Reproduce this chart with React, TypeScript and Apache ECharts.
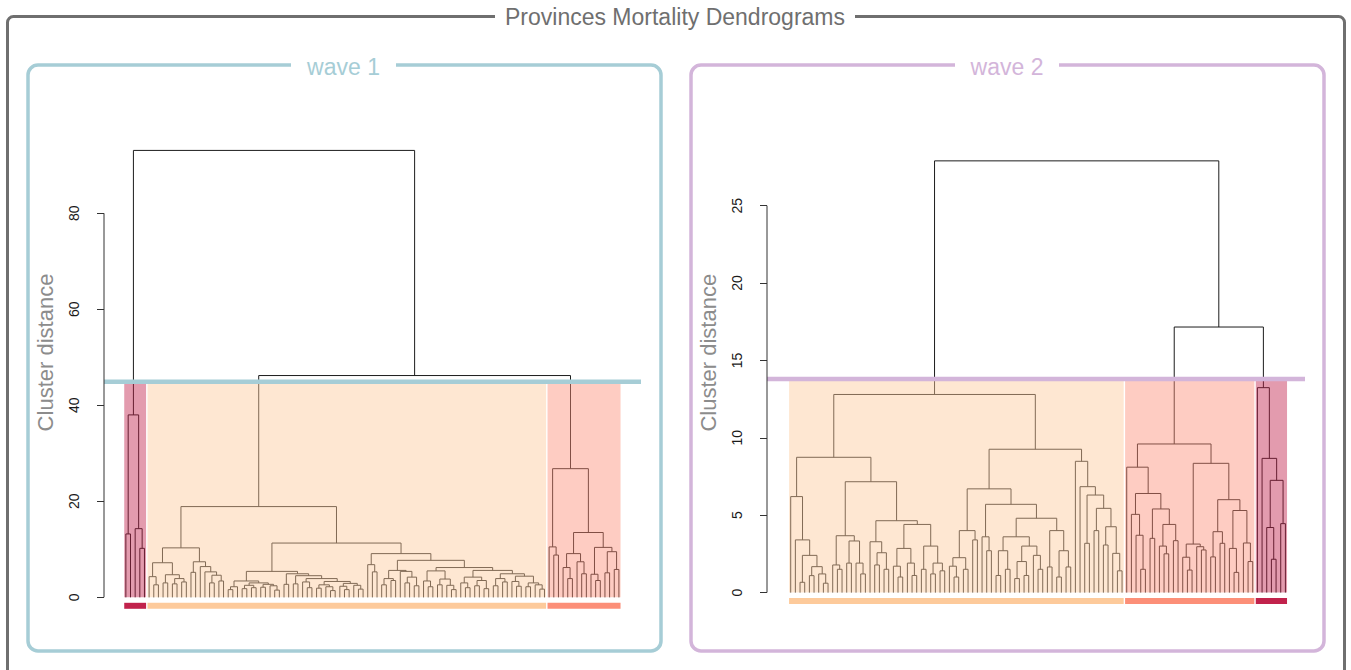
import React, { useEffect, useRef } from "react";
import * as echarts from "echarts";

// A dendrogram node: 0 is a leaf, otherwise [merge height, left, right].
type Tree = 0 | [number, Tree, Tree];

// ---- wave 1 ----
const wave1ClusterA: Tree = [38, [13.2, 0, 0], [14.3, 0, [10.2, 0, 0]]];

const wave1ClusterB: Tree = [18.9,
  [10.3,
    [7.2, [4.3, 0, [2.6, 0, 0]], [4.7, [3.0, 0, 0], [3.9, [2.8, 0, 0], [3.2, 0, 0]]]],
    [7.4, [5.2, 0, 0], [6.4, 0, [5.3, 0, [4.6, [3.0, 0, 0], [3.4, 0, 0]]]]]],
  [11.3,
    [5.4,
      [3.4, [2.2, [1.6, 0, 0], 0],
        [3.0, [2.5, [1.8, 0, 0], [2.0, 0, 0]], [2.7, [2.1, 0, 0], [2.4, 0, [1.5, 0, 0]]]]],
      [4.9, [2.7, 0, 0],
        [4.5, [2.8, 0, 0],
          [3.9, [3.2, 0, [2.0, 0, 0]],
            [3.3, [2.6, [1.9, 0, 0], [2.2, 0, [1.4, 0, 0]]],
              [2.9, [2.3, 0, [1.6, 0, 0]], [2.5, 0, [1.7, 0, 0]]]]]]]],
    [9.1,
      [6.8, 0, [5.3, 0, 0]],
      [7.7,
        [5.6, [3.9, [2.6, 0, 0], [3.5, 0, 0]], [5.4, 0, [4.2, [3.0, 0, 0], [2.4, 0, 0]]]],
        [6.2,
          [5.5, [3.4, 0, [2.2, 0, 0]], [3.8, [2.6, 0, 0], [2.5, 0, [1.6, 0, 0]]]],
          [5.6,
            [4.2, [3.0, 0, [2.0, 0, 0]], [3.5, [2.4, 0, 0], [1.8, 0, 0]]],
            [4.9, [3.9, [2.4, 0, 0], [3.2, 0, 0]],
              [4.4, [3.3, 0, [2.3, 0, 0]], [3.0, [2.2, 0, 0], [2.6, 0, [1.7, 0, 0]]]]]]]]]]];

const wave1ClusterC: Tree = [26.8,
  [10.5, 0, [8.8, 0, 0]],
  [13.5,
    [9.1, [6.2, 0, [3.9, 0, 0]], [7.4, 0, [4.9, 0, 0]]],
    [10.4, [4.8, 0, [3.5, 0, 0]], [9.5, [5.1, 0, 0], [5.8, 0, 0]]]]];

const wave1JoinBC = 46.2;
const wave1JoinAll = 93.1;
const wave1Cut = 44.9;
const wave1Ticks = [0, 20, 40, 60, 80];

// ---- wave 2 ----
const wave2ClusterL: Tree = [12.8,
  [8.74,
    [6.2, 0, [3.4, 0, [2.4, [0.66, 0, 0], [1.67, [1.09, 0, 0], [1.2, 0, [0.6, 0, 0]]]]]],
    [7.16,
      [3.67, [1.78, 0, [1.5, 0, 0]], [3.33, [1.9, 0, 0], [1.9, 0, [1.2, 0, 0]]]],
      [4.64,
        [3.28, 0, [2.57, [1.78, 0, 0], [1.5, 0, 0]]],
        [4.4,
          [2.85, [1.7, 0, [1.0, 0, 0]], [1.9, 0, [1.1, 0, 0]]],
          [3.0, [1.5, 0, 0], [1.9, [1.2, 0, 0], [1.4, 0, 0]]]]]]],
  [9.26,
    [6.7,
      [4.0, [2.25, [1.7, 0, [1.0, 0, 0]], [1.5, 0, 0]], [3.4, 0, 0]],
      [5.7,
        [3.6, 0, [2.7, 0, 0]],
        [4.8,
          [3.6, [2.7, [1.1, 0, 0], [1.5, 0, 0]],
            [3.0, [2.0, [0.9, 0, 0], [1.1, 0, 0]], [2.4, 0, [1.5, 0, 0]]]],
          [4.0, [1.65, 0, 0], [2.7, [1.0, 0, 0], [1.65, 0, 0]]]]]],
    [8.48, 0,
      [6.84, 0,
        [6.3, [3.18, 0, 0],
          [5.44, [4.0, 0, 0], [4.25, [3.07, 0, 0], [2.53, 0, [1.4, 0, 0]]]]]]]]];

const wave2ClusterM: Tree = [9.6,
  [8.1, 0,
    [6.4,
      [5.05, 0, [3.7, 0, [1.5, 0, 0]]],
      [5.4, [3.5, 0, 0], [4.4, [3.0, 0, [2.5, 0, 0]], [3.35, 0, 0]]]]],
  [8.35,
    [3.13, [2.28, 0, [1.45, 0, 0]], [2.96, 0, [2.75, 0, 0]]],
    [6.0,
      [3.93, [2.3, 0, 0], [3.18, 0, 0]],
      [5.3, [2.85, 0, [1.3, 0, 0]], [3.2, 0, [2.0, 0, 0]]]]]];

const wave2ClusterD: Tree = [13.24, 0, [8.67, 0, [7.25, [4.2, 0, [2.15, 0, 0]], [4.45, 0, 0]]]];

const wave2JoinMD = 17.16;
const wave2JoinAll = 27.9;
const wave2Cut = 13.8;
const wave2Ticks = [0, 5, 10, 15, 20, 25];

// cluster palette
const crimson = "#c1224c";
const peach = "#fdca9b";
const salmon = "#fc8f78";

const wave1Clusters: Tree[] = [wave1ClusterA, wave1ClusterB, wave1ClusterC];
const wave1Colors = [crimson, peach, salmon];
const wave2Clusters: Tree[] = [wave2ClusterL, wave2ClusterM, wave2ClusterD];
const wave2Colors = [peach, salmon, crimson];

const FONT = "Liberation Sans, Arial, sans-serif";

function countLeaves(n: Tree): number {
  return n === 0 ? 1 : countLeaves(n[1]) + countLeaves(n[2]);
}

// Walks the tree in leaf order and returns the elbow segments [x1, y1, x2, y2].
function elbowSegments(root: Tree): number[][] {
  const segs: number[][] = [];
  let next = 1;
  const walk = (n: Tree): [number, number] => {
    if (n === 0) return [next++, 0];
    const [h, a, b] = n;
    const [xa, ha] = walk(a);
    const [xb, hb] = walk(b);
    segs.push([xa, ha, xa, h], [xb, hb, xb, h], [xa, h, xb, h]);
    return [(xa + xb) / 2, h];
  };
  walk(root);
  return segs;
}

// Leaf ranges of the clusters, in leaf order, for the shaded boxes.
function clusterBoxes(clusters: Tree[], top: number): number[][] {
  let start = 1;
  return clusters.map((c) => {
    const n = countLeaves(c);
    const box = [start - 0.35, start + n - 1 + 0.35, top];
    start += n;
    return box;
  });
}

function panelSeries(
  idx: number,
  root: Tree,
  clusters: Tree[],
  colors: string[],
  cut: number,
  ticks: number[],
  xMin: number,
  xMax: number,
  cutColor: string
): any[] {
  const segs = elbowSegments(root);
  const boxes = clusterBoxes(clusters, cut);
  return [
    {
      type: "custom",
      xAxisIndex: idx,
      yAxisIndex: idx,
      z: 2,
      silent: true,
      data: segs,
      renderItem: (_p: any, api: any) => {
        const a = api.coord([api.value(0), api.value(1)]);
        const b = api.coord([api.value(2), api.value(3)]);
        return {
          type: "line",
          shape: { x1: a[0], y1: a[1], x2: b[0], y2: b[1] },
          style: { stroke: "#1c1c1c", lineWidth: 1 },
        };
      },
    },
    {
      type: "custom",
      xAxisIndex: idx,
      yAxisIndex: idx,
      z: 3,
      silent: true,
      data: boxes,
      renderItem: (p: any, api: any) => {
        const tl = api.coord([api.value(0), api.value(2)]);
        const br = api.coord([api.value(1), 0]);
        const color = colors[p.dataIndex];
        const w = br[0] - tl[0];
        return {
          type: "group",
          children: [
            {
              type: "rect",
              shape: { x: tl[0], y: tl[1], width: w, height: br[1] - tl[1] },
              style: { fill: color, opacity: 0.45 },
            },
            {
              type: "rect",
              shape: { x: tl[0], y: br[1] + 5.5, width: w, height: 6 },
              style: { fill: color },
            },
          ],
        };
      },
    },
    {
      type: "line",
      xAxisIndex: idx,
      yAxisIndex: idx,
      z: 4,
      silent: true,
      symbol: "none",
      data: [
        [xMin, cut],
        [xMax, cut],
      ],
      lineStyle: { color: cutColor, width: 4.5 },
    },
    {
      type: "line",
      xAxisIndex: idx,
      yAxisIndex: idx,
      z: 4,
      silent: true,
      symbol: "none",
      data: [
        [xMin, ticks[0]],
        [xMin, ticks[ticks.length - 1]],
      ],
      lineStyle: { color: "#333", width: 1 },
    },
  ];
}

function yAxisFor(idx: number, max: number, ticks: number[]) {
  return {
    gridIndex: idx,
    type: "value",
    min: 0,
    max,
    axisLine: { show: false, onZero: false },
    splitLine: { show: false },
    axisTick: {
      show: true,
      length: 7,
      customValues: ticks,
      lineStyle: { color: "#333", width: 1 },
    },
    axisLabel: {
      customValues: ticks,
      rotate: 90,
      margin: 23,
      fontSize: 14,
      color: "#1a1a1a",
      fontFamily: FONT,
    },
    name: "Cluster distance",
    nameLocation: "middle",
    nameGap: 48,
    nameRotate: 90,
    nameTextStyle: { fontSize: 22, color: "#8c8c8c", fontFamily: FONT },
  };
}

export default function App() {
  const ref = useRef<HTMLDivElement>(null);

  useEffect(() => {
    document.body.style.margin = "0";
    if (!ref.current) return;
    const chart = echarts.init(ref.current, undefined, { renderer: "svg" });

    const wave1Root: Tree = [wave1JoinAll, wave1ClusterA, [wave1JoinBC, wave1ClusterB, wave1ClusterC]];
    const wave2Root: Tree = [wave2JoinAll, wave2ClusterL, [wave2JoinMD, wave2ClusterM, wave2ClusterD]];

    const x1Min = -3.7, x1Max = 111.75;
    const x2Min = -4.08, x2Max = 111.2;
    const blue = "#a6cdd6";
    const purple = "#d3b5da";
    const grey = "#6f6f6f";

    chart.setOption({
      animation: false,
      grid: [
        { left: 104, right: 710, top: 107.7, bottom: 72.7 },
        { left: 767, right: 46, top: 112.9, bottom: 77.5 },
      ],
      xAxis: [
        { gridIndex: 0, type: "value", min: x1Min, max: x1Max, show: false },
        { gridIndex: 1, type: "value", min: x2Min, max: x2Max, show: false },
      ],
      yAxis: [yAxisFor(0, 102, wave1Ticks), yAxisFor(1, 31, wave2Ticks)],
      series: [
        ...panelSeries(0, wave1Root, wave1Clusters, wave1Colors, wave1Cut, wave1Ticks, x1Min, x1Max, blue),
        ...panelSeries(1, wave2Root, wave2Clusters, wave2Colors, wave2Cut, wave2Ticks, x2Min, x2Max, purple),
      ],
      graphic: [
        {
          type: "rect",
          z: 0,
          shape: { x: 7.5, y: 16.5, width: 1337, height: 720, r: 6 },
          style: { fill: "none", stroke: grey, lineWidth: 3 },
        },
        { type: "rect", z: 1, shape: { x: 495, y: 4, width: 360, height: 26 }, style: { fill: "#fff" } },
        {
          type: "text",
          z: 2,
          x: 675,
          y: 17,
          style: {
            text: "Provinces Mortality Dendrograms",
            fontSize: 23,
            fontFamily: FONT,
            fill: grey,
            align: "center",
            verticalAlign: "middle",
          },
        },
        {
          type: "rect",
          z: 0,
          shape: { x: 28, y: 65, width: 633, height: 586, r: 10 },
          style: { fill: "none", stroke: blue, lineWidth: 3.5 },
        },
        { type: "rect", z: 1, shape: { x: 291, y: 54, width: 105, height: 26 }, style: { fill: "#fff" } },
        {
          type: "text",
          z: 2,
          x: 343.5,
          y: 67,
          style: {
            text: "wave 1",
            fontSize: 23,
            fontFamily: FONT,
            fill: blue,
            align: "center",
            verticalAlign: "middle",
          },
        },
        {
          type: "rect",
          z: 0,
          shape: { x: 691, y: 65, width: 633, height: 586, r: 10 },
          style: { fill: "none", stroke: purple, lineWidth: 3.5 },
        },
        { type: "rect", z: 1, shape: { x: 955, y: 54, width: 104, height: 26 }, style: { fill: "#fff" } },
        {
          type: "text",
          z: 2,
          x: 1007,
          y: 67,
          style: {
            text: "wave 2",
            fontSize: 23,
            fontFamily: FONT,
            fill: purple,
            align: "center",
            verticalAlign: "middle",
          },
        },
      ],
    });

    return () => chart.dispose();
  }, []);

  return <div ref={ref} style={{ width: 1351, height: 670 }} />;
}
